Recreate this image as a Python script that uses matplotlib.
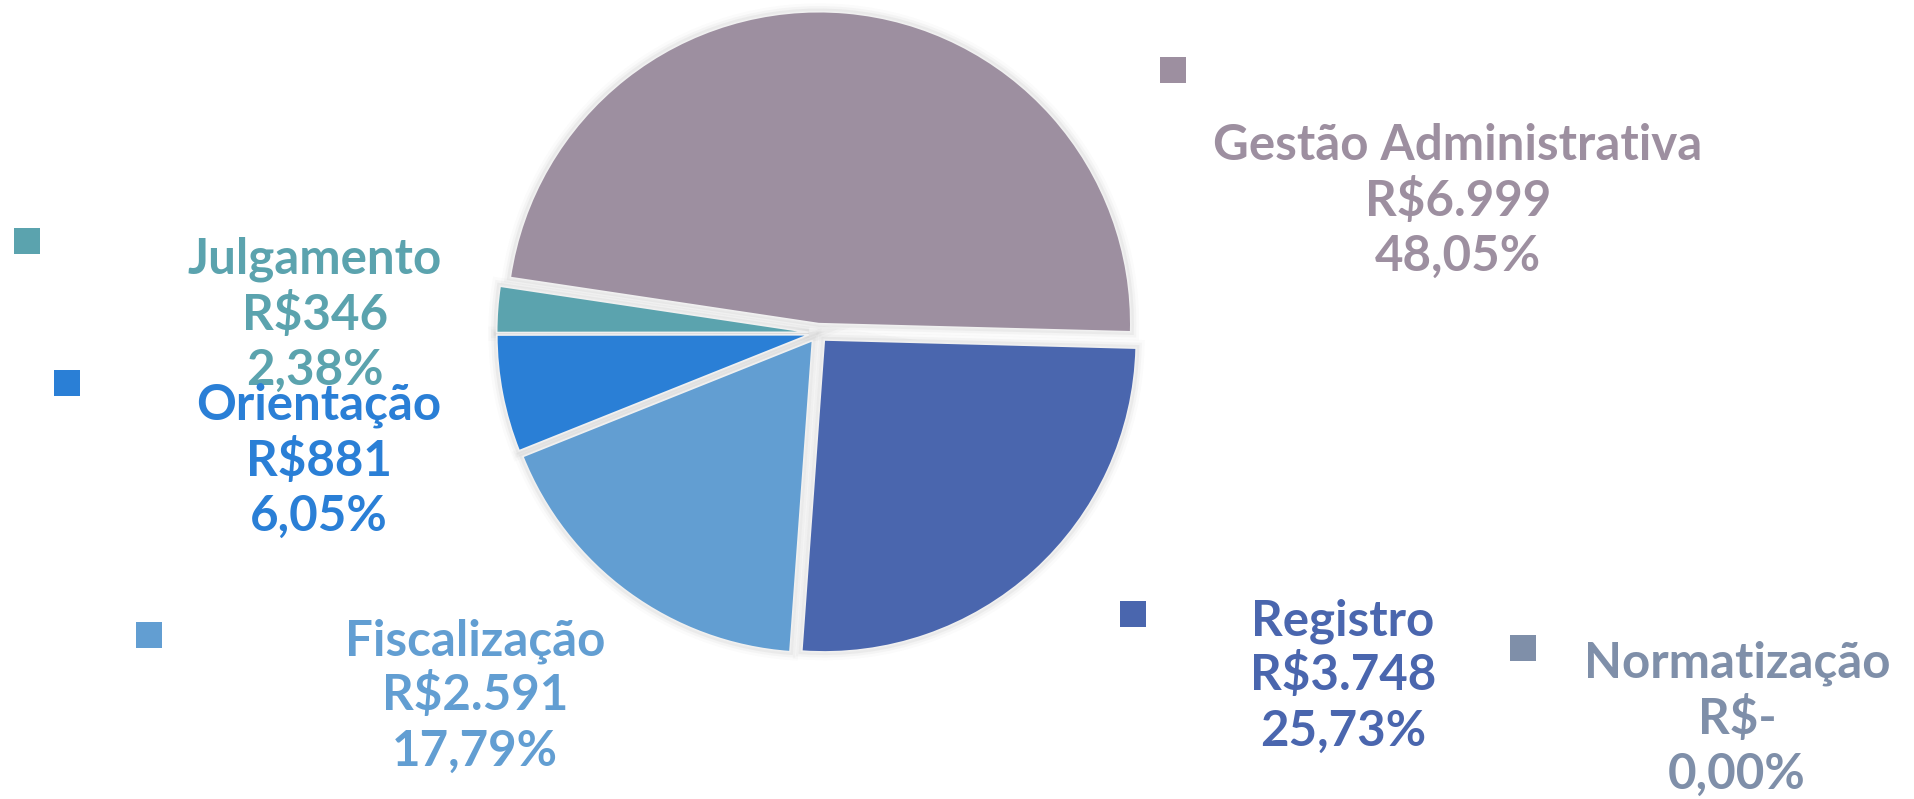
import matplotlib
matplotlib.use("Agg")
import matplotlib.pyplot as plt
from matplotlib.patches import Rectangle

# Budget split by area (R$)
categories = ["Gestão Administrativa", "Julgamento", "Orientação",
              "Fiscalização", "Registro", "Normatização"]
values = [6999, 346, 881, 2591, 3748, 0]
colors = ["#9D8FA0", "#5BA3AE", "#2A7FD6", "#629ED2", "#4A66AE", "#7F8FA9"]

W, H = 1914, 799
fig = plt.figure(figsize=(W / 100, H / 100), dpi=100)
ax = fig.add_axes([0, 0, 1, 1])

cx, cy, R = 818, H - 333, 312
# pie() takes the explode offset in data units, so scale by the radius
explode = [0.03 * R if v > 0 else 0 for v in values]
pie_kw = dict(explode=explode, startangle=-1.5, counterclock=True,
              center=(cx, cy), radius=R)

# soft grey glow around each slice
for lw, a in [(12, 0.025), (8, 0.04), (4.5, 0.06)]:
    wedges, _ = ax.pie(values, colors=colors,
                       wedgeprops=dict(facecolor="none",
                                       edgecolor=(0.35, 0.35, 0.35, a),
                                       linewidth=lw), **pie_kw)
    for w, v in zip(wedges, values):
        if v == 0:
            w.set_visible(False)

wedges, _ = ax.pie(values, colors=colors,
                   wedgeprops=dict(edgecolor="#f0f0f0", linewidth=1.2),
                   **pie_kw)
for w, v in zip(wedges, values):
    if v == 0:
        w.set_visible(False)

ax.set_xlim(0, W)
ax.set_ylim(0, H)
ax.set_aspect("equal")
ax.axis("off")

total = sum(values)


def brl(v):
    return "R$-" if v == 0 else "R$" + f"{v:,.0f}".replace(",", ".")


def pct(v):
    return f"{100 * v / total:.2f}%".replace(".", ",")


# label layout: centre x and first baseline (pixels from top)
label_x = [1458, 315, 319, 475, 1343, 1737]
label_y = [160, 274, 420, 655, 635, 678]
# colour keys
key_x = [1173, 27, 67, 149, 1133, 1523]
key_y = [70, 241, 383, 635, 614, 648]
key_size = 26
step = 55.5

for i, name in enumerate(categories):
    lines = [name, brl(values[i]), pct(values[i])]
    for k, line in enumerate(lines):
        ax.text(label_x[i], H - (label_y[i] + k * step), line,
                ha="center", va="baseline", color=colors[i],
                fontsize=35.5, fontweight="bold", family="Lato")
    ax.add_patch(Rectangle((key_x[i] - key_size / 2, H - key_y[i] - key_size / 2),
                           key_size, key_size, color=colors[i], lw=0))

fig.savefig("out.png", dpi=100, facecolor="white")
